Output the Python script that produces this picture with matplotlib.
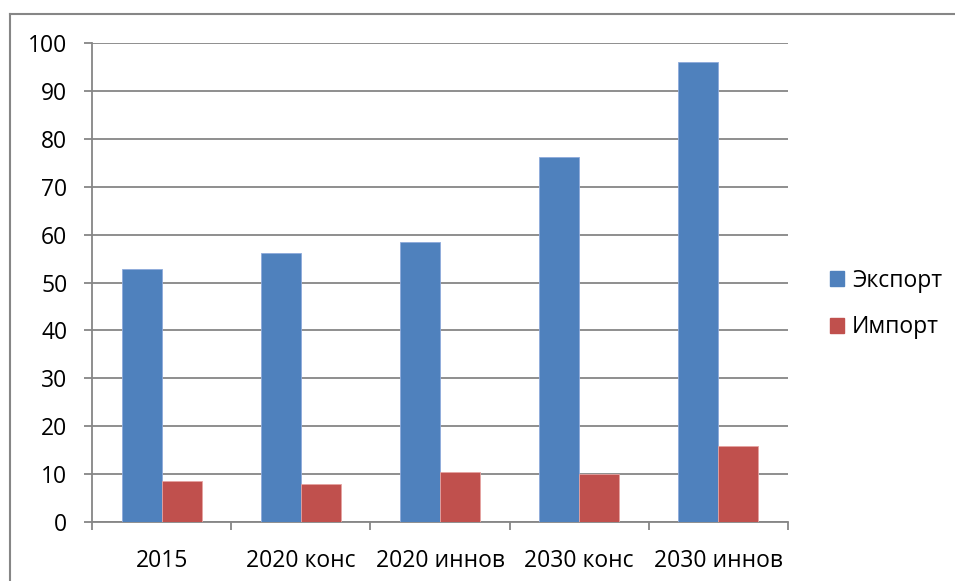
import matplotlib
matplotlib.use("Agg")
import matplotlib.pyplot as plt
import numpy as np
from matplotlib.lines import Line2D
from matplotlib.patches import Patch

categories = ["2015", "2020 конс", "2020 иннов", "2030 конс", "2030 иннов"]
export_vals = [52.8, 56.1, 58.4, 76.2, 96.0]
import_vals = [8.6, 7.9, 10.5, 10.0, 15.8]
series_names = ["Экспорт", "Импорт"]
yticks = [0, 10, 20, 30, 40, 50, 60, 70, 80, 90, 100]

plt.rcParams['font.family'] = ['Open Sans', 'DejaVu Sans']
W, H = 955, 581
fs = 16.5
fig = plt.figure(figsize=(W/100, H/100), dpi=100)
ax = fig.add_axes([92/W, (H-522)/H, (788-92)/W, (522-43)/H])

grid_c = "#868686"
blue = "#4F81BD"
red = "#C0504D"
x = np.arange(len(categories))
bw = 0.287
ax.bar(x - bw/2, export_vals, bw, color=blue, edgecolor="#8EAADB", linewidth=0.6, zorder=3, label=series_names[0])
ax.bar(x + bw/2, import_vals, bw, color=red, edgecolor="#E6A3A1", linewidth=0.6, zorder=3, label=series_names[1])

ax.set_xlim(-0.5, len(categories) - 0.5)
ax.set_ylim(0, 100)
ax.set_yticks(yticks)
ax.yaxis.grid(True, color=grid_c, linewidth=1.3, zorder=0)
ax.set_axisbelow(True)
for s in ["top", "right"]:
    ax.spines[s].set_visible(False)
for s in ["left", "bottom"]:
    ax.spines[s].set_color(grid_c)
    ax.spines[s].set_linewidth(1.3)

ax.set_xticks(x)
ax.set_xticklabels(categories, fontsize=fs)
ax.tick_params(axis="x", length=0, pad=19.5)
ax.set_xticks(np.arange(-0.5, len(categories)), minor=True)
ax.tick_params(axis="x", which="minor", length=5.8, width=1.3, color=grid_c)
ax.tick_params(axis="y", length=5.8, width=1.3, color=grid_c, labelsize=fs, pad=12)

handles = [Patch(facecolor=blue, edgecolor=blue), Patch(facecolor=red, edgecolor=red)]
fig.legend(handles, series_names, loc="center left", bbox_to_anchor=(830/W, 1 - 304/H),
           frameon=False, fontsize=fs, handlelength=0.62, handleheight=0.62,
           handletextpad=0.35, labelspacing=1.0, borderpad=0, borderaxespad=0)

# outer chart border (top and left visible)
fig.add_artist(Line2D([9.5/W, 9.5/W], [0, 1 - 14/H], transform=fig.transFigure, color=grid_c, linewidth=1.5))
fig.add_artist(Line2D([9.5/W, 1], [1 - 14/H, 1 - 14/H], transform=fig.transFigure, color=grid_c, linewidth=1.5))

fig.savefig("out.png", dpi=100)
